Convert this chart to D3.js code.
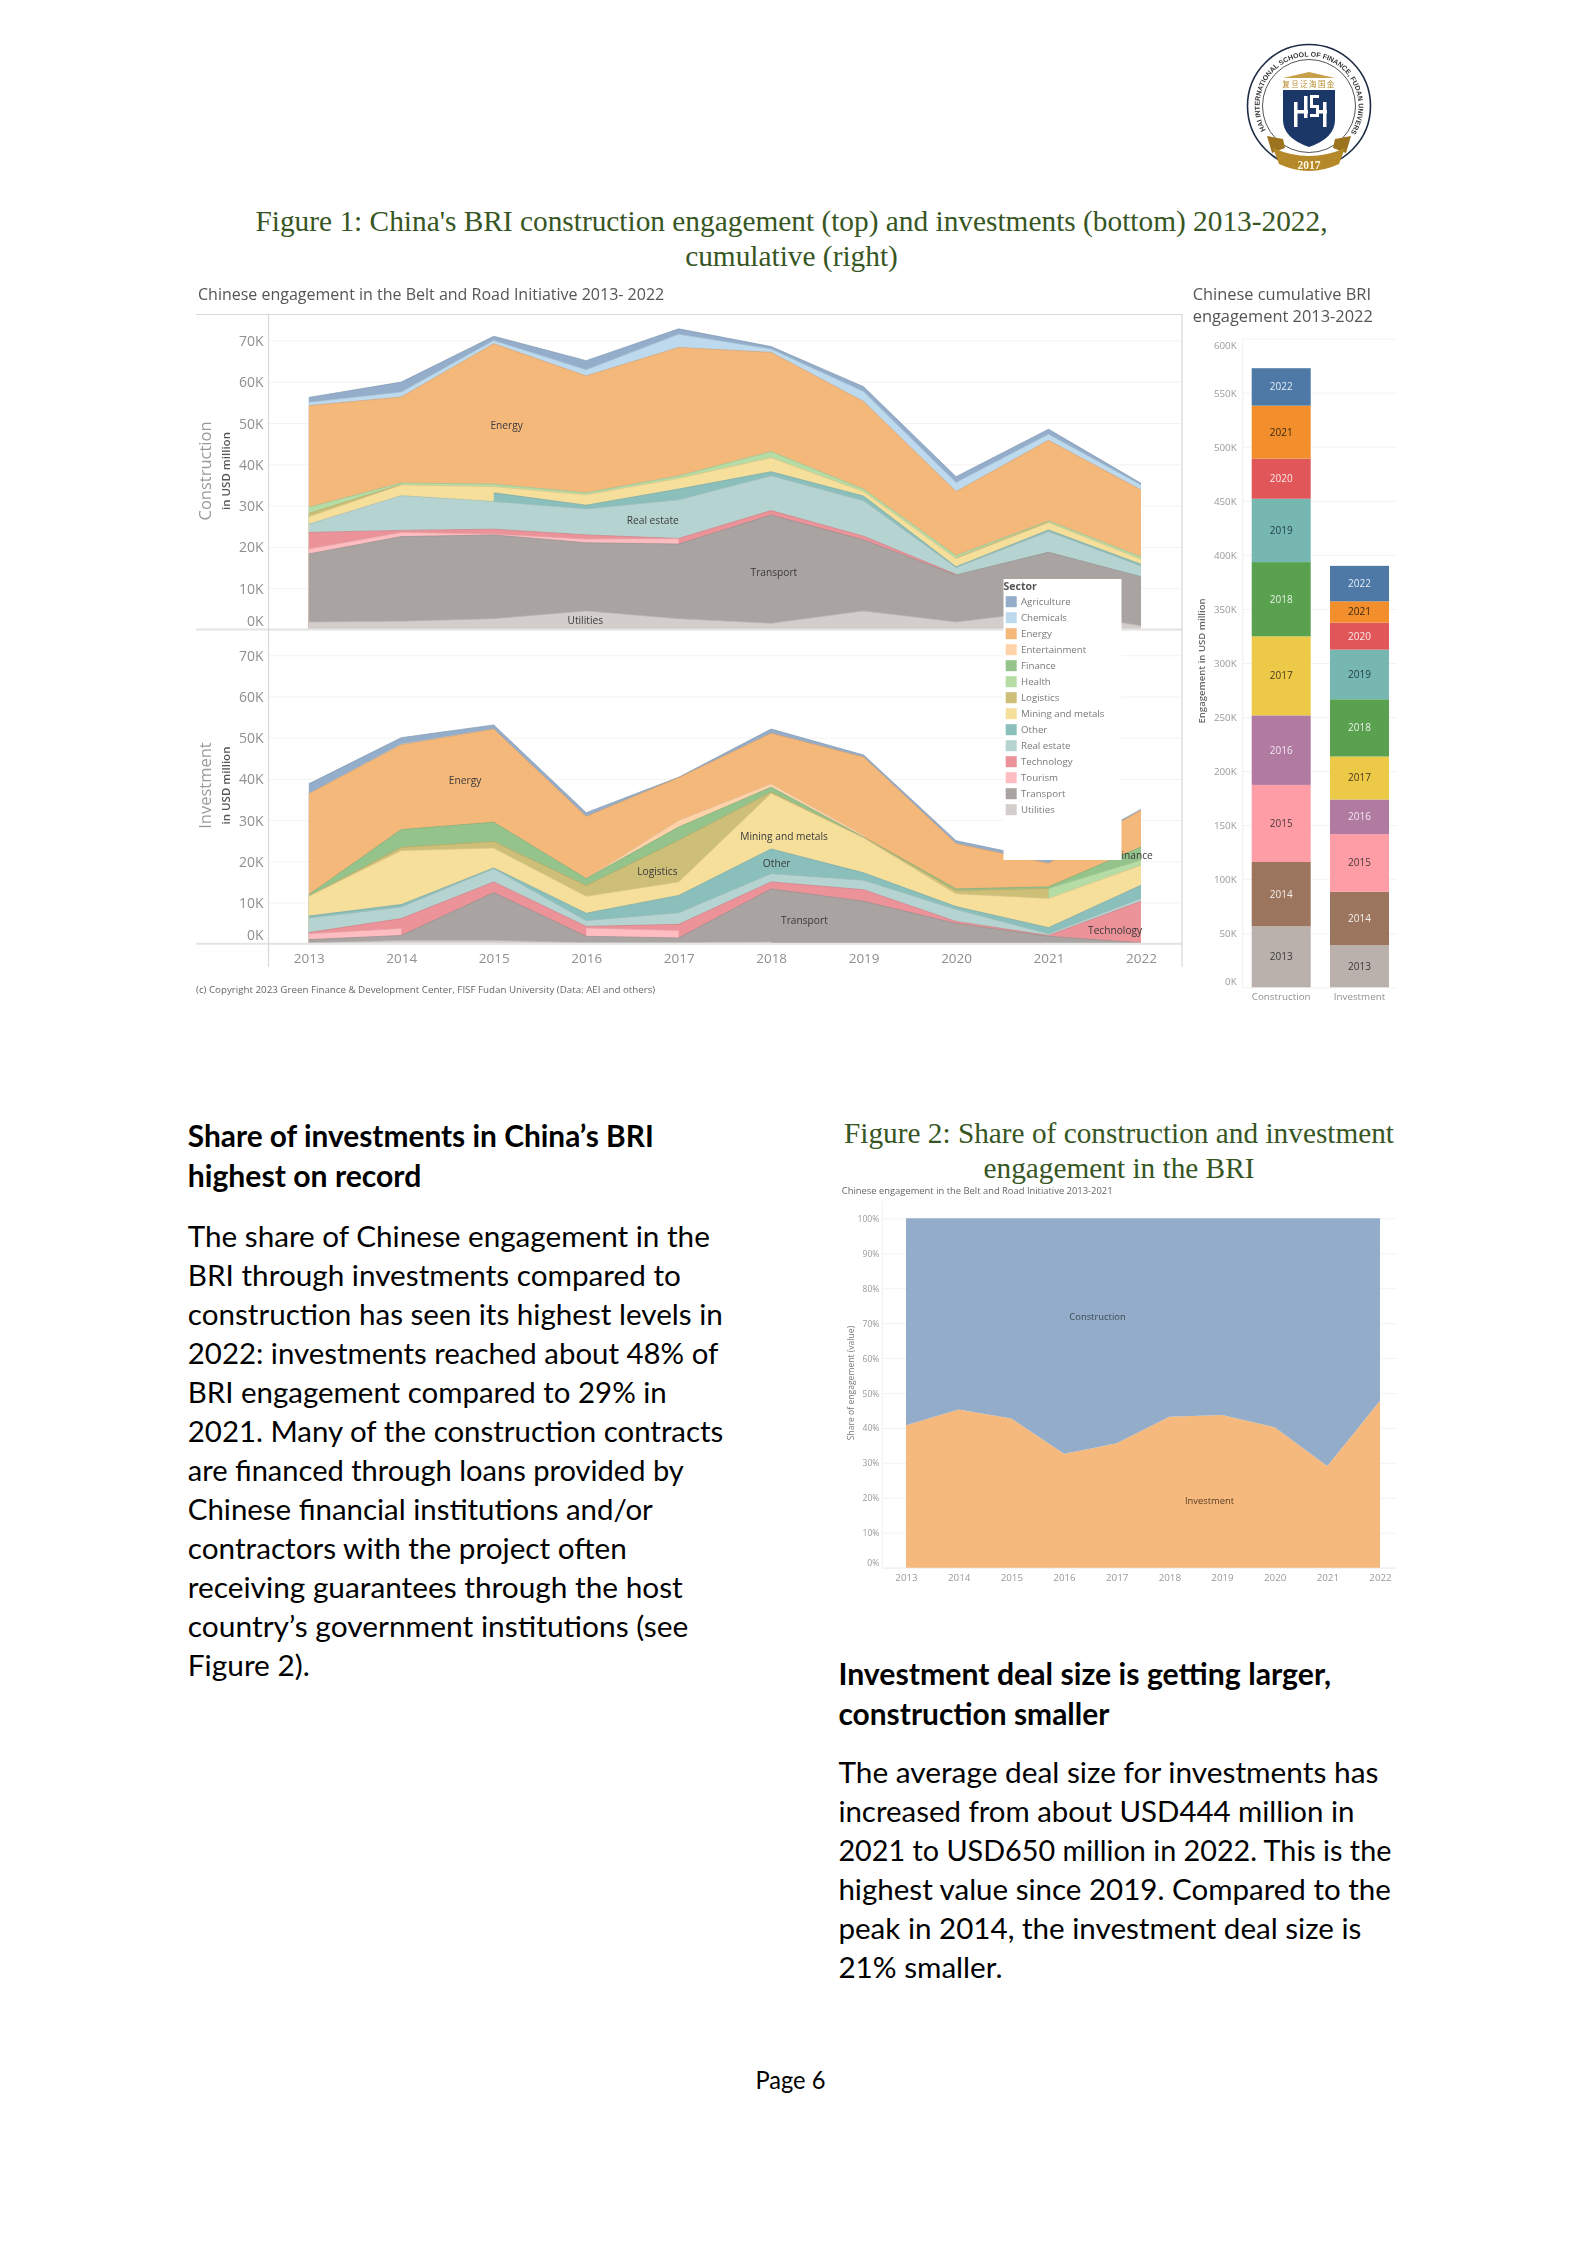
<!DOCTYPE html>
<html><head><meta charset="utf-8">
<script src="https://cdn.jsdelivr.net/npm/d3@7"></script>
<style>
html,body{margin:0;padding:0;background:#fff}
svg{display:block}
text{font-family:"Open Sans",sans-serif}
.soft{filter:blur(.45px)}
.doc{font-family:Lato,sans-serif;fill:#000}
.fig{font-family:"Liberation Serif",serif;fill:#375623;text-anchor:middle}
.grid line{stroke:#f3f3f3}
.grid .domain{display:none}
</style></head><body>
<svg id="page" width="1585" height="2244"></svg>
<script>
// ---------- data (USD million, in thousands: shown as "K" on the axes) ----------
const years = [2013,2014,2015,2016,2017,2018,2019,2020,2021,2022];
const sectors = ["Agriculture","Chemicals","Energy","Entertainment","Finance","Health","Logistics","Mining and metals","Other","Real estate","Technology","Tourism","Transport","Utilities"];
const sectorColors = ["#93adca","#bdd9ee","#f5b87b","#ffd3aa","#94c48b","#b6dca6","#cebf78","#f5df9b","#8abfbc","#b5d4d1","#ec9299","#ffbcc1","#a9a4a1","#d3cecb"];
const _ = null;
// Construction, by sector
const conAgriculture   = [1.2,2.4,1.0,2.2,1.3,0.6,1.2,1.4,1.2,0.4];
const conChemicals     = [0.8,1.2,0.8,1.5,3.2,0.8,2.4,2.2,1.5,1.2];
const conEnergy        = [24.6,20.8,34,28.3,31.1,24,21.2,15.5,19.5,16.2];
const conEntertainment = [_,_,_,_,_,_,_,_,_,_];
const conFinance       = [_,_,_,_,_,_,_,_,_,_];
const conHealth        = [1.5,0.4,0.6,0.5,0.6,1.5,0.6,0.6,0.2,0.6];
const conLogistics     = [0.8,0.1,_,_,_,_,_,0.1,0.2,_];
const conMining        = [1.8,2.6,1.5,2.5,2.6,3.4,1.1,2.0,1.8,1.2];
const conOther         = [_,_,2.1,0.9,2.6,1.0,1.1,0.2,0.4,0.4];
const conRealEstate    = [2.0,8.4,6.7,6.3,9.35,8.4,8.6,1.65,5.0,2.6];
const conTechnology    = [4.0,0.5,1.2,1.0,0.05,1.1,0.9,0.15,_,_];
const conTourism       = [1.2,1.0,0.2,0.9,1.3,_,_,_,_,_];
const conTransport     = [16.5,20.5,20.3,16.5,18.1,26.2,17.2,11.4,14.2,11.9];
const conUtilities     = [1.8,2.0,2.6,4.5,2.6,1.5,4.5,1.8,4.5,0.9];
// Investment, by sector
const invAgriculture   = [2.4,1.5,1.0,0.9,0.1,1.0,0.5,0.7,0.8,0.2];
const invChemicals     = [0,0.2,0,_,_,_,_,_,_,_];
const invEnergy        = [24.5,20.6,22.6,15.1,10.4,12.3,19,11,5.7,8.9];
const invEntertainment = [_,_,_,0,1.6,0.8,0.4,_,_,_];
const invFinance       = [0.4,4.3,4.7,1.7,3.2,1.2,0.1,0.4,0.4,3.2];
const invHealth        = [_,_,_,_,_,_,_,_,0,1.25];
const invLogistics     = [0,0.8,1.6,2.6,10.1,0.3,0.1,0.8,2.4,_];
const invMining        = [4.8,13.1,4.8,4.1,3.3,13.5,8.5,3.1,7.1,4.85];
const invOther         = [0.5,0.6,0.2,1.8,4.2,6,1.8,0.7,1.5,3.2];
const invRealEstate    = [3.5,2.8,3.2,1.4,2.8,2.0,2.3,2.9,0.4,0.7];
const invTechnology    = [0.3,2.4,2.6,0.4,1.5,1.7,2.8,0.5,0.2,10.1];
const invTourism       = [1.4,1.7,_,2.0,1.8,_,_,_,_,_];
const invTransport     = [0.8,1.2,11.6,1.55,1.15,12.9,10.3,4.9,1.8,0.2];
const invUtilities     = [0.2,0.8,0.8,0.25,0.25,0.4,_,_,_,_];
// Cumulative bars: yearly totals
const barCategories = ["Construction","Investment"];
const barConstruction = [56.4,59.5,71.3,64.3,73.1,68.7,58.6,37.1,49,34.6];
const barInvestment   = [38.9,49.5,53.3,32,39.8,52.9,45.9,25,19.7,32.8];
const yearColors = ["#bab0ac","#9c755f","#ff9da7","#b07aa1","#edc948","#59a14f","#76b7b2","#e15759","#f28e2b","#4e79a7"];
const yearLabelColors = ["#3a3a3a","#f4eeea","#4a3a3a","#f0e6ee","#4a3a20","#e8f2e6","#24404a","#fde8e8","#3a2a10","#e4ecf4"];
// Figure 2
const shareInvestment = [40.8,45.3,42.7,32.6,35.6,43.2,43.7,40.2,29.1,47.8];
const shareConstruction = shareInvestment.map(v => 100 - v);
const shareTicks = [0,10,20,30,40,50,60,70,80,90,100];
// Text
const fig1Title = ["Figure 1: China's BRI construction engagement (top) and investments (bottom) 2013-2022,","cumulative (right)"];
const fig2Title = ["Figure 2: Share of construction and investment","engagement in the BRI"];
const leftHeading = ["Share of investments in China’s BRI","highest on record"];
const leftHeadingWidths = [466,233.5];
const leftBody = ["The share of Chinese engagement in the","BRI through investments compared to","construction has seen its highest levels in","2022: investments reached about 48% of","BRI engagement compared to 29% in","2021. Many of the construction contracts","are financed through loans provided by","Chinese financial institutions and/or","contractors with the project often","receiving guarantees through the host","country’s government institutions (see","Figure 2)."];
const leftBodyWidths = [522,493,535,530.5,479,535.5,496,465,439,495,500.5,122];
const rightHeading = ["Investment deal size is getting larger,","construction smaller"];
const rightHeadingWidths = [492.7,271];
const rightBody = ["The average deal size for investments has","increased from about USD444 million in","2021 to USD650 million in 2022. This is the","highest value since 2019. Compared to the","peak in 2014, the investment deal size is","21% smaller."];
const rightBodyWidths = [540,516,553,552.5,523,164];
// In-chart labels: [text, year position, value position]
const conLabels = [["Energy",2015.14,49.3],["Real estate",2016.72,26.5],["Transport",2018.03,13.9],["Utilities",2015.99,2.3]];
const invLabels = [["Energy",2014.69,39.5],["Logistics",2016.77,17.6],["Mining and metals",2018.14,25.9],["Other",2018.06,19.4],["Transport",2018.36,5.6],["Technology",2021.72,3.3],["Finance",2021.93,21.3]];

const conSeries = [conAgriculture,conChemicals,conEnergy,conEntertainment,conFinance,conHealth,conLogistics,conMining,conOther,conRealEstate,conTechnology,conTourism,conTransport,conUtilities];
const invSeries = [invAgriculture,invChemicals,invEnergy,invEntertainment,invFinance,invHealth,invLogistics,invMining,invOther,invRealEstate,invTechnology,invTourism,invTransport,invUtilities];

const svg = d3.select("#page");
const color = d3.scaleOrdinal(sectors, sectorColors);

// ---------- document text ----------
function lines(arr, x, y0, lh, cls, size, weight, widths){
  const t = svg.append("g").selectAll("text").data(arr).join("text")
    .attr("class",cls).attr("x",x).attr("y",(d,i)=>y0+i*lh)
    .attr("font-size",size).attr("font-weight",weight||400).text(d=>d);
  if(widths) t.attr("textLength",(d,i)=>widths[i]).attr("lengthAdjust","spacingAndGlyphs");
}
lines(fig1Title,791.5,231,34.5,"fig",29.35);
lines(fig2Title,1119,1143,34.5,"fig",29.3);
lines(leftHeading,187.8,1147,40,"doc",30,700,leftHeadingWidths);
lines(leftBody,187.8,1247,39,"doc",29.6,400,leftBodyWidths);
lines(rightHeading,838.4,1684.5,40,"doc",30,700,rightHeadingWidths);
lines(rightBody,838.4,1783,39,"doc",29.6,400,rightBodyWidths);
svg.append("text").attr("class","doc").attr("x",790.4).attr("y",2089).attr("text-anchor","middle").attr("font-size",24.5).attr("textLength",70).attr("lengthAdjust","spacingAndGlyphs").text("Page 6");

// ---------- Figure 1 areas ----------
const soft = svg.append("g").attr("class","soft");
const x = d3.scaleLinear([2013,2022],[308.8,1141]);
const yCon = d3.scaleLinear([0,70],[629.5,340.4]);
const yInv = d3.scaleLinear([0,70],[943.7,655.3]);

function areaChart(series, y){
  const rows = years.map((yr,i)=>{const r={year:yr};sectors.forEach((s,k)=>r[s]=series[k][i]);return r;});
  const stack = d3.stack().keys([...sectors].reverse()).value((r,k)=>r[k]==null?0:r[k]);
  const layers = stack(rows);
  const g = soft.append("g");
  const ax = g.append("g").attr("class","grid").attr("transform","translate(268.5,0)")
    .call(d3.axisLeft(y).tickValues(d3.range(0,80,10)).tickFormat(d=>d+"K").tickSize(-913.5).tickPadding(5));
  ax.selectAll("text").attr("font-size",14).attr("fill","#8f8f8f").attr("dy",d=>d===0?-4.5:5);
  // painter's order: top layers first, each filled down to zero so missing years show a hard edge
  [...layers].reverse().forEach(l=>{
    const i = sectors.indexOf(l.key), raw = series[i];
    const def = (d,j)=>raw[j]!=null;
    g.append("path").datum(l).attr("fill",color(l.key))
      .attr("d",d3.area().defined(def).x((d,j)=>x(years[j])).y0(y(0)).y1(d=>y(d[1])));
    g.append("path").datum(l).attr("fill","none").attr("stroke",d3.color(color(l.key)).darker(.35)).attr("stroke-width",1).attr("stroke-opacity",.7)
      .attr("d",d3.line().defined(def).x((d,j)=>x(years[j])).y(d=>y(d[1])));
  });
}
areaChart(conSeries,yCon);
areaChart(invSeries,yInv);

// frame
const frame = soft.append("g").attr("stroke","#d8d8d8").attr("stroke-width",1.2);
frame.append("line").attr("x1",196).attr("x2",1182).attr("y1",314.5).attr("y2",314.5);
frame.append("line").attr("x1",196).attr("x2",1182).attr("y1",yCon(0)).attr("y2",yCon(0)).attr("stroke","#e4e4e4").attr("stroke-width",2);
frame.append("line").attr("x1",196).attr("x2",1182).attr("y1",yInv(0)).attr("y2",yInv(0)).attr("stroke","#e4e4e4").attr("stroke-width",2);
frame.append("line").attr("x1",268.5).attr("x2",268.5).attr("y1",314).attr("y2",967);
frame.append("line").attr("x1",1182).attr("x2",1182).attr("y1",314).attr("y2",967);

// year axis
const xAxis = soft.append("g").attr("transform",`translate(0,${yInv(0)})`)
  .call(d3.axisBottom(x).tickValues(years).tickFormat(d3.format("d")).tickSize(0).tickPadding(10));
xAxis.select(".domain").remove();
xAxis.selectAll("text").attr("font-size",13.5).attr("fill","#8f8f8f");

// in-chart labels
function labels(data,y){
  soft.append("g").selectAll("text").data(data).join("text")
    .attr("x",d=>x(d[1])).attr("y",d=>y(d[2])+3.5).attr("text-anchor","middle")
    .attr("font-size",10.2).attr("fill","#3a3a3a").text(d=>d[0]);
}
labels(conLabels,yCon);
labels(invLabels,yInv);

// legend
const lg = soft.append("g");
lg.append("rect").attr("x",1003.5).attr("y",579).attr("width",118).attr("height",281).attr("fill","#fff");
lg.append("text").attr("x",1003.5).attr("y",590).attr("font-size",10.5).attr("font-weight",700).attr("fill","#555").text("Sector");
const li = lg.selectAll("g.li").data(sectors).join("g").attr("class","li").attr("transform",(d,i)=>`translate(1005.7,${601.7+i*16})`);
li.append("rect").attr("y",-5.5).attr("width",11).attr("height",11).attr("fill",d=>color(d));
li.append("text").attr("x",15.3).attr("y",3.6).attr("font-size",9.7).attr("fill","#7a7a7a").text(d=>d);

// titles and axis titles
soft.append("text").attr("x",198).attr("y",300).attr("font-size",16).attr("fill","#555").text("Chinese engagement in the Belt and Road Initiative 2013- 2022");
soft.append("text").attr("x",196).attr("y",993).attr("font-size",9.75).attr("fill","#666").text("(c) Copyright 2023 Green Finance & Development Center, FISF Fudan University (Data: AEI and others)");
function vtext(t,cx,cy,size,fill,weight){
  soft.append("text").attr("transform",`translate(${cx},${cy}) rotate(-90)`).attr("text-anchor","middle")
    .attr("font-size",size).attr("font-weight",weight||400).attr("fill",fill).text(t);
}
vtext("Construction",211,471,16.5,"#9a9a9a");
vtext("in USD million",229.5,471,11.5,"#555",600);
vtext("Investment",211,785.5,16.5,"#9a9a9a");
vtext("in USD million",229.5,785.5,11.5,"#555",600);

// ---------- cumulative bars ----------
const yBar = d3.scaleLinear([0,600],[987.3,338.6]);
const xBar = d3.scaleBand(barCategories,[1251.7,1389]).paddingInner(.2465).paddingOuter(0);
const axB = soft.append("g").attr("class","grid").attr("transform","translate(1242.7,0)")
  .call(d3.axisLeft(yBar).tickValues(d3.range(0,650,50)).tickFormat(d=>d+"K").tickSize(-154).tickPadding(6));
axB.selectAll("text").attr("font-size",9.8).attr("fill","#9a9a9a").attr("dy",d=>d===0?-3.2:d===600?9.6:3.5);
soft.append("line").attr("x1",1242.7).attr("x2",1242.7).attr("y1",338).attr("y2",988).attr("stroke","#f0f0f0");
[barConstruction,barInvestment].forEach((vals,k)=>{
  let sum = 0;
  const segs = vals.map((v,i)=>{const s={y0:sum,y1:sum+v,i};sum+=v;return s;});
  const g = soft.append("g");
  g.selectAll("rect").data(segs).join("rect").attr("x",xBar(barCategories[k])).attr("width",xBar.bandwidth())
    .attr("y",d=>yBar(d.y1)).attr("height",d=>yBar(d.y0)-yBar(d.y1)).attr("fill",d=>yearColors[d.i]);
  g.selectAll("text").data(segs).join("text").attr("x",xBar(barCategories[k])+xBar.bandwidth()/2)
    .attr("y",d=>yBar((d.y0+d.y1)/2)+3.5).attr("text-anchor","middle").attr("font-size",10)
    .attr("fill",d=>yearLabelColors[d.i]).text(d=>years[d.i]);
  soft.append("text").attr("x",xBar(barCategories[k])+xBar.bandwidth()/2).attr("y",1000).attr("text-anchor","middle")
    .attr("font-size",9.8).attr("fill","#8f8f8f").text(barCategories[k]);
});
soft.append("text").attr("x",1192.7).attr("y",300).attr("font-size",16.4).attr("fill","#555").text("Chinese cumulative BRI");
soft.append("text").attr("x",1192.7).attr("y",322).attr("font-size",16.4).attr("fill","#555").text("engagement 2013-2022");
vtext("Engagement in USD million",1205,661,9.6,"#666",600);

// ---------- Figure 2 ----------
const xS = d3.scaleLinear([2013,2022],[906,1380]);
const yS = d3.scaleLinear([0,100],[1567.7,1218.3]);
const axS = soft.append("g").attr("class","grid").attr("transform","translate(882.4,0)")
  .call(d3.axisLeft(yS).tickValues(shareTicks).tickFormat(d=>d+"%").tickSize(-514).tickPadding(3));
axS.selectAll("text").attr("font-size",8.6).attr("fill","#999").attr("dy",d=>d===0?-2.7:3);
soft.append("line").attr("x1",882.4).attr("x2",882.4).attr("y1",1201).attr("y2",1568).attr("stroke","#f2f2f2");
soft.append("line").attr("x1",882.4).attr("x2",1396.7).attr("y1",1568).attr("y2",1568).attr("stroke","#eee");
const shareRows = years.map((yr,i)=>({year:yr,Investment:shareInvestment[i],Construction:shareConstruction[i]}));
const shareLayers = d3.stack().keys(["Investment","Construction"])(shareRows);
const shareFill = d3.scaleOrdinal(["Investment","Construction"],["#f5b87d","#92acc9"]);
soft.append("g").selectAll("path").data(shareLayers).join("path").attr("fill",d=>shareFill(d.key))
  .attr("d",d3.area().x(d=>xS(d.data.year)).y0(d=>yS(d[0])).y1(d=>yS(d[1])));
const xSa = soft.append("g").attr("transform","translate(0,1568)").call(d3.axisBottom(xS).tickValues(years).tickFormat(d3.format("d")).tickSize(0).tickPadding(6));
xSa.select(".domain").remove();
xSa.selectAll("text").attr("font-size",9.8).attr("fill","#999");
soft.append("text").attr("x",841.8).attr("y",1194).attr("font-size",9.4).attr("fill","#666").text("Chinese engagement in the Belt and Road Initiative 2013-2021");
vtext("Share of engagement (value)",853.5,1383,8.6,"#777");
soft.append("text").attr("x",1097.5).attr("y",yS(71.7)+3).attr("text-anchor","middle").attr("font-size",9.4).attr("fill","#3e4c55").text("Construction");
soft.append("text").attr("x",1209.6).attr("y",yS(19.2)+3).attr("text-anchor","middle").attr("font-size",9.4).attr("fill","#5a4026").text("Investment");

// ---------- logo ----------
const lo = svg.append("g").attr("class","soft").attr("transform","translate(1309,106)");
lo.append("circle").attr("r",61.5).attr("fill","#fff").attr("stroke","#1c2a44").attr("stroke-width",1.6);
lo.append("circle").attr("r",46.5).attr("fill","#fff").attr("stroke","#555").attr("stroke-width",1);
svg.append("defs").append("path").attr("id","logoArc").attr("d","M -42 26.2 A 49.5 49.5 0 1 1 42 26.2");
lo.append("text").attr("font-size",7).attr("font-weight",700).attr("fill","#333").style("font-family","'Liberation Sans Narrow','Liberation Sans'")
  .append("textPath").attr("href","#logoArc").attr("startOffset","50%").attr("text-anchor","middle").text("FANHAI INTERNATIONAL SCHOOL OF FINANCE, FUDAN UNIVERSITY");
lo.append("path").attr("d","M-26 -28 L0 -34 L26 -28 Z").attr("fill","#c9a04a");
lo.append("text").attr("y",-19.5).attr("text-anchor","middle").style("font-family","'Noto Sans CJK SC'").attr("font-size",7.5).attr("letter-spacing",1.4).attr("fill","#b5892a").text("复旦泛海国金");
lo.append("path").attr("d","M-26 -16 L26 -16 L26 14 Q26 32 0 41 Q-26 32 -26 14 Z").attr("fill","#1b3768");
lo.append("g").attr("fill","#fff").selectAll("rect").data([[-15,-4,3.5,25],[-15,4,14,3.5],[-5,-10,3.5,22],[1,-11,9,3],[1,-10,3,11],[1,-1,9,3],[7,-1,3,11],[1,8,9,3],[14,-4,3.5,25],[7,4,11,3.5]])
  .join("rect").attr("x",d=>d[0]).attr("y",d=>d[1]).attr("width",d=>d[2]).attr("height",d=>d[3]);
lo.append("path").attr("d","M-42 30 L-26 33 L-24 42 L-37 47 Z M42 30 L26 33 L24 42 L37 47 Z").attr("fill","#9c7420");
lo.append("path").attr("d","M-36 42 Q0 58 36 42 L30 58 Q0 72 -30 58 Z").attr("fill","#b5892a");
lo.append("text").attr("y",63).attr("text-anchor","middle").style("font-family","'Liberation Serif'").attr("font-weight",700).attr("font-size",11.5).attr("fill","#fff6e0").text("2017");
</script>
</body></html>
